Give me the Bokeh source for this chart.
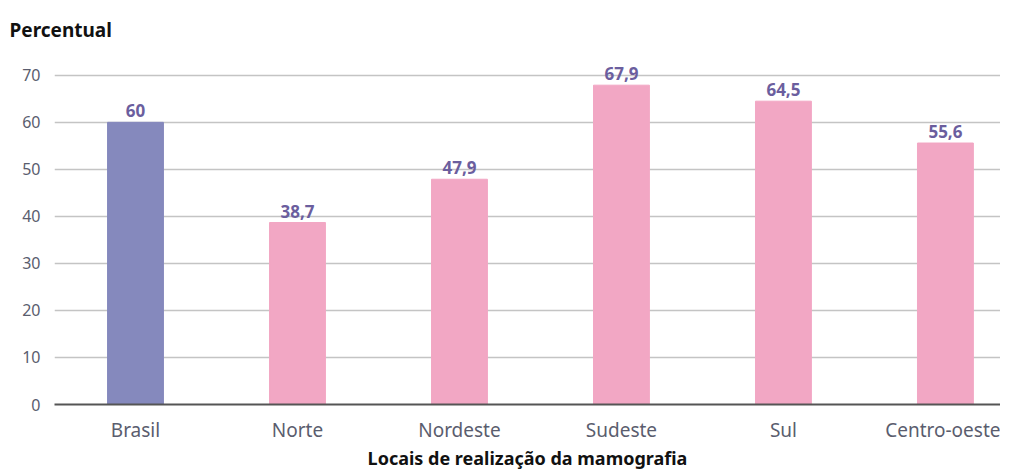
from bokeh.plotting import figure
from bokeh.models import ColumnDataSource, Range1d, FixedTicker, LabelSet
from bokeh.core.properties import value
from bokeh.embed import file_html
from bokeh.resources import INLINE

categories = ["Brasil", "Norte", "Nordeste", "Sudeste", "Sul", "Centro-oeste"]
values = [60, 38.7, 47.9, 67.9, 64.5, 55.6]
value_labels = ["60", "38,7", "47,9", "67,9", "64,5", "55,6"]
y_ticks = [0, 10, 20, 30, 40, 50, 60, 70]

colors = ["#8589BD"] + ["#F2A7C4"] * (len(categories) - 1)
xpos = [i + 0.5 for i in range(len(categories))]

src = ColumnDataSource(dict(x=xpos, top=values, color=colors, lab=value_labels, cat=categories))

FONT = "Noto Sans"
p = figure(width=1000, height=472, output_backend="svg", toolbar_location=None,
           x_range=Range1d(0, 5.84), y_range=Range1d(0, 74),
           min_border_left=54, min_border_right=0, min_border_top=0, min_border_bottom=0)

p.vbar(x="x", top="top", width=0.345, color="color", source=src)

labels = LabelSet(x="x", y="top", text="lab", source=src, text_align="center",
                  y_offset=5, text_font=value(FONT), text_font_style="bold",
                  text_font_size="17px", text_color="#6B5E9E")
p.add_layout(labels)

p.title.text = "Percentual"
p.title.align = "left"
p.title.offset = -45
p.title.text_font = FONT
p.title.text_font_size = "19px"
p.title.text_color = "#111111"
p.title.standoff = 28

p.xaxis.ticker = FixedTicker(ticks=xpos)
p.xaxis.major_label_overrides = {x: c for x, c in zip(xpos, categories)}
p.xaxis.axis_label = "Locais de realização da mamografia"
p.xaxis.axis_label_text_font = FONT
p.xaxis.axis_label_text_font_style = "bold"
p.xaxis.axis_label_text_font_size = "18px"
p.xaxis.axis_label_text_color = "#111111"
p.xaxis.axis_label_standoff = 0
p.xaxis.major_label_text_font = FONT
p.xaxis.major_label_text_font_size = "19px"
p.xaxis.major_label_text_color = "#5A5D6E"
p.xaxis.major_label_standoff = 6
p.xaxis.axis_line_color = "#555555"
p.xaxis.axis_line_width = 2
p.xaxis.major_tick_line_color = None
p.xaxis.minor_tick_line_color = None

p.yaxis.ticker = FixedTicker(ticks=y_ticks)
p.yaxis.major_label_text_font = FONT
p.yaxis.major_label_text_font_size = "16px"
p.yaxis.major_label_text_color = "#5A5D6E"
p.yaxis.major_label_standoff = 8
p.yaxis.axis_line_color = None
p.yaxis.major_tick_line_color = None
p.yaxis.minor_tick_line_color = None

p.xgrid.grid_line_color = None
p.ygrid.ticker = FixedTicker(ticks=y_ticks)
p.ygrid.grid_line_color = "#C4C4C4"
p.ygrid.grid_line_width = 1.5
p.outline_line_color = None

open("out.html", "w").write(file_html(p, INLINE))
